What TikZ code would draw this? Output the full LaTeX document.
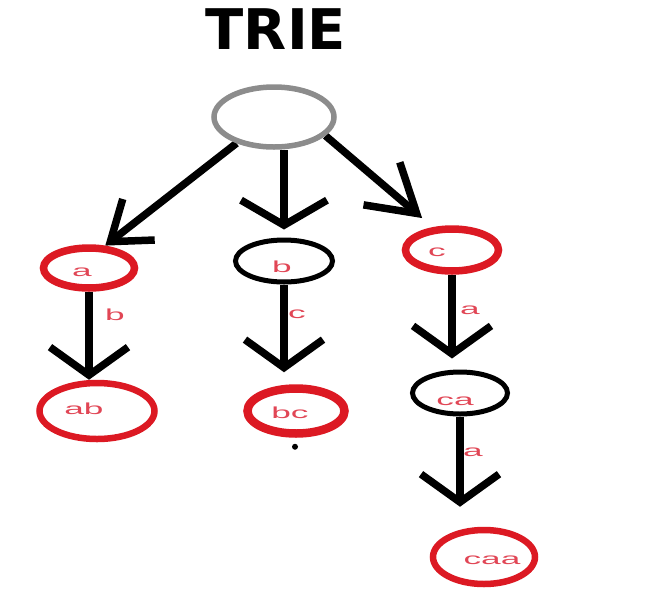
\documentclass[tikz,border=0pt]{standalone}
\usepackage{graphicx}
\usepackage{fontspec}
\setmainfont{Liberation Sans}
\newfontfamily\titlefont{DejaVu Sans}
\usetikzlibrary{shapes.geometric,arrows.meta,backgrounds}
\definecolor{ringred}{RGB}{220,25,35}
\definecolor{txtred}{RGB}{225,70,85}
\definecolor{rootgray}{RGB}{140,140,140}
\newcommand\widetxt[1]{\scalebox{2.2}[1]{#1}}
\begin{document}
\begin{tikzpicture}[x=1pt,y=-1pt,
  redring/.style={draw=ringred, line width=7.5pt, ellipse, inner sep=0pt},
  blackring/.style={draw=black, line width=5pt, ellipse, inner sep=0pt},
  rootring/.style={draw=rootgray, line width=5.5pt, ellipse, inner sep=0pt},
  intext/.style={text=txtred, font=\fontsize{16}{16}\selectfont, inner sep=0pt},
  elabel/.style={text=txtred, font=\fontsize{16}{16}\selectfont, inner sep=0pt},
  conn/.style={draw=black, line width=7.5pt, -{Straight Barb[length=28pt,width=78pt]}},
  connb/.style={draw=black, line width=7.5pt, -{Straight Barb[length=25pt,width=86pt]}},
  conna/.style={draw=black, line width=7.5pt, -{Straight Barb[length=36pt,width=52pt]}},
  connc/.style={draw=black, line width=7.5pt, -{Straight Barb[length=46pt,width=56pt]}}
]
\useasboundingbox (0,0) rectangle (656,592);

\node[font=\titlefont\bfseries\fontsize{56}{56}\selectfont, inner sep=0pt] (title) at (276,29) {TRIE};

\node[rootring, minimum width=120pt, minimum height=60pt] (root) at (274,117) {};
\node[redring, minimum width=91pt, minimum height=40pt,
  label={[intext,xshift=-7pt,yshift=-4pt]center:\widetxt{a}}] (a) at (89,268) {};
\node[blackring, minimum width=97pt, minimum height=42pt,
  label={[intext,xshift=-2pt,yshift=-6pt]center:\widetxt{b}}] (b) at (284,261) {};
\node[redring, minimum width=93pt, minimum height=42pt,
  label={[intext,xshift=-15pt,yshift=-2pt]center:\widetxt{c}}] (c) at (452,250) {};
\node[redring, line width=6.5pt, minimum width=115pt, minimum height=56pt,
  label={[intext,xshift=-13pt,yshift=2pt]center:\widetxt{ab}}] (ab) at (97,411) {};
\node[redring, line width=8.5pt, minimum width=97pt, minimum height=45pt,
  label={[intext,xshift=-6pt,yshift=-2pt]center:\widetxt{bc}}] (bc) at (296,411) {};
\node[blackring, minimum width=95pt, minimum height=42pt,
  label={[intext,xshift=-5pt,yshift=-8pt]center:\widetxt{ca}}] (ca) at (460,393) {};
\node[redring, line width=6.5pt, minimum width=102pt, minimum height=54pt,
  label={[intext,xshift=8pt,yshift=-3pt]center:\widetxt{caa}}] (caa) at (484,557) {};

\fill (bc.south) ++(-1,9) circle[radius=3pt];

\begin{scope}[on background layer]
\fill[white] (0,0) rectangle (656,592);
\draw[conna] (root.-145) -- (a.54);
\draw[connb, shorten >=8pt] (root.south -| b.north) -- (b.north);
\draw[connc, shorten >=14pt] (root.-20) -- (c.130);
\draw[conn] (a.south) -- node[elabel,pos=0.26,xshift=26pt]{\widetxt{b}} (a.south |- ab.north);
\draw[conn, shorten >=12pt] (b.south) -- node[elabel,pos=0.30,xshift=13pt]{\widetxt{c}} (b.south |- bc.north);
\draw[conn, shorten >=11pt] (c.south) -- node[elabel,pos=0.375,xshift=18pt]{\widetxt{a}} (c.south |- ca.north);
\draw[conn, shorten >=20pt] (ca.south) -- node[elabel,pos=0.32,xshift=13pt]{\widetxt{a}} (ca.south |- caa.north);
\end{scope}
\end{tikzpicture}
\end{document}
